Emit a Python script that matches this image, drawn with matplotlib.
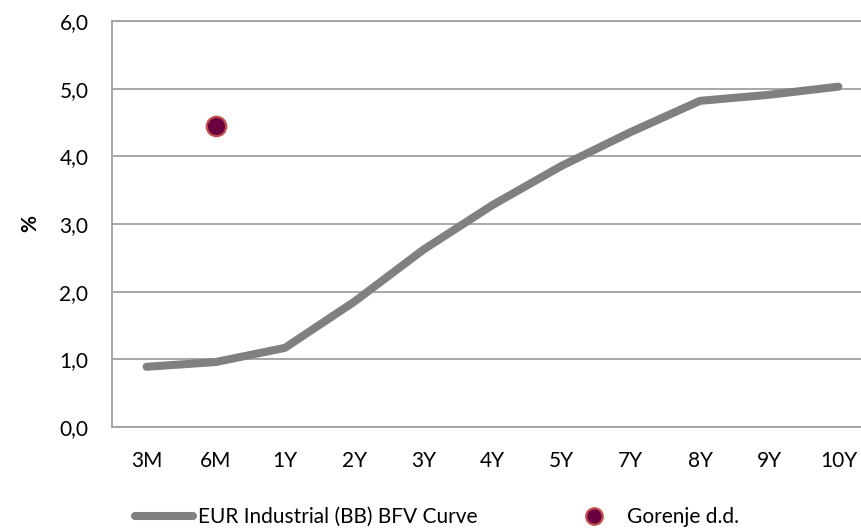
import matplotlib
matplotlib.use("Agg")
import matplotlib.pyplot as plt
from matplotlib.ticker import FuncFormatter

categories = ["3M", "6M", "1Y", "2Y", "3Y", "4Y", "5Y", "7Y", "8Y", "9Y", "10Y"]
curve_values = [0.89, 0.96, 1.17, 1.85, 2.62, 3.28, 3.86, 4.36, 4.82, 4.91, 5.03]
point_category = "6M"
point_value = 4.45
series_names = ["EUR Industrial (BB) BFV Curve", "Gorenje d.d."]
y_ticks = [0, 1, 2, 3, 4, 5, 6]

plt.rcParams['font.family'] = ['Lato', 'DejaVu Sans']

fig = plt.figure(figsize=(8.61, 5.29), dpi=100)
ax = fig.add_axes([112/861, 1-427/529, (873-112)/861, (427-21)/529])

x = list(range(len(categories)))
line, = ax.plot(x, curve_values, color="#808080", lw=5.8, solid_capstyle="round",
                solid_joinstyle="round", label=series_names[0], zorder=3)
px = categories.index(point_category)
pt, = ax.plot([px], [point_value], ls="none", marker="o", ms=14,
              mfc="#6B0040", mec="#C0504D", mew=1.6, label=series_names[1], zorder=4)

ax.set_xlim(-0.5, len(categories) - 0.5)
ax.set_ylim(0, 6)
ax.set_yticks(y_ticks)
ax.yaxis.set_major_formatter(FuncFormatter(lambda v, p: f"{v:.1f}".replace(".", ",")))
ax.set_xticks(x)
ax.set_xticklabels(categories)
ax.grid(axis="y", color="#A0A0A0", lw=1.3)
ax.set_axisbelow(True)
ax.spines["right"].set_visible(False)
for s in ["left", "bottom", "top"]:
    ax.spines[s].set_color("#A0A0A0")
    ax.spines[s].set_linewidth(1.3)
ax.tick_params(axis="both", length=0, labelsize=15)
ax.tick_params(axis="y", pad=17)
ax.tick_params(axis="x", pad=17)
ax.set_ylabel("%", fontsize=15, fontweight="bold", labelpad=14)

fig.legend(handles=[line, pt], labels=series_names, loc="center left",
           bbox_to_anchor=(135/861, 1-517/529), ncol=2, frameon=False,
           fontsize=15, handlelength=2.8, handletextpad=0.2, columnspacing=4.2,
           markerscale=0.85, borderpad=0, borderaxespad=0)

fig.savefig("out.png", dpi=100)
